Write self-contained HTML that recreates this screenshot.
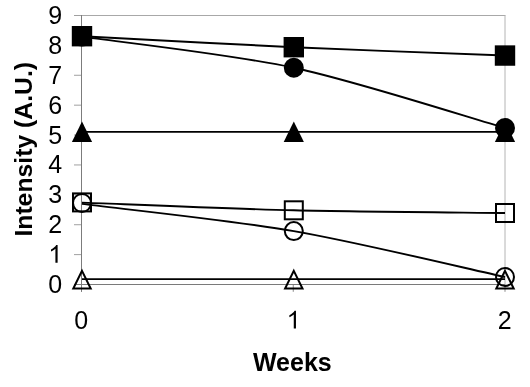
<!DOCTYPE html><html><head><meta charset="utf-8"><style>html,body{margin:0;padding:0;background:#fff;}svg{display:block;}text{font-family:"Liberation Sans",sans-serif;}svg{will-change:transform;}</style></head><body>
<svg width="530" height="387" viewBox="0 0 530 387">
<rect width="530" height="387" fill="#fff"/>
<line x1="81" y1="15.5" x2="505.5" y2="15.5" stroke="#a8a8a8" stroke-width="1"/>
<line x1="505" y1="15.5" x2="505" y2="284" stroke="#b4b4b4" stroke-width="1"/>
<line x1="74" y1="284.50" x2="81" y2="284.50" stroke="#a0a0a0" stroke-width="1"/>
<line x1="74" y1="254.61" x2="81" y2="254.61" stroke="#a0a0a0" stroke-width="1"/>
<line x1="74" y1="224.72" x2="81" y2="224.72" stroke="#a0a0a0" stroke-width="1"/>
<line x1="74" y1="194.83" x2="81" y2="194.83" stroke="#a0a0a0" stroke-width="1"/>
<line x1="74" y1="164.94" x2="81" y2="164.94" stroke="#a0a0a0" stroke-width="1"/>
<line x1="74" y1="135.06" x2="81" y2="135.06" stroke="#a0a0a0" stroke-width="1"/>
<line x1="74" y1="105.17" x2="81" y2="105.17" stroke="#a0a0a0" stroke-width="1"/>
<line x1="74" y1="75.28" x2="81" y2="75.28" stroke="#a0a0a0" stroke-width="1"/>
<line x1="74" y1="45.39" x2="81" y2="45.39" stroke="#a0a0a0" stroke-width="1"/>
<line x1="74" y1="15.50" x2="81" y2="15.50" stroke="#a0a0a0" stroke-width="1"/>
<line x1="81.50" y1="284" x2="81.50" y2="291.8" stroke="#8a8a8a" stroke-width="1"/>
<line x1="293.25" y1="284" x2="293.25" y2="291.8" stroke="#8a8a8a" stroke-width="1"/>
<line x1="505.00" y1="284" x2="505.00" y2="291.8" stroke="#8a8a8a" stroke-width="1"/>
<line x1="81.5" y1="15" x2="81.5" y2="291.8" stroke="#7c7c7c" stroke-width="1"/>
<line x1="74" y1="284.5" x2="505" y2="284.5" stroke="#7a7a7a" stroke-width="1"/>
<text x="62.20" y="292.70" font-size="25.00" text-anchor="end">0</text>
<path transform="translate(48.296,262.811) scale(0.012207,-0.012207)" d="M763 0H583V1147Q518 1085 412 1023Q307 961 223 926V1100Q374 1171 487 1272Q600 1373 647 1466H763Z" fill="#000"/>
<text x="62.20" y="232.92" font-size="25.00" text-anchor="end">2</text>
<text x="62.20" y="203.03" font-size="25.00" text-anchor="end">3</text>
<text x="62.20" y="173.14" font-size="25.00" text-anchor="end">4</text>
<text x="62.20" y="144.16" font-size="25.00" text-anchor="end">5</text>
<text x="62.20" y="114.17" font-size="25.00" text-anchor="end">6</text>
<text x="62.20" y="84.48" font-size="25.00" text-anchor="end">7</text>
<text x="62.20" y="53.59" font-size="25.00" text-anchor="end">8</text>
<text x="62.20" y="23.70" font-size="25.00" text-anchor="end">9</text>
<text x="81.30" y="328.60" font-size="25.00" text-anchor="middle">0</text>
<path transform="translate(286.648,328.600) scale(0.012207,-0.012207)" d="M763 0H583V1147Q518 1085 412 1023Q307 961 223 926V1100Q374 1171 487 1272Q600 1373 647 1466H763Z" fill="#000"/>
<text x="504.70" y="328.60" font-size="25.00" text-anchor="middle">2</text>
<text x="292.35" y="371.0" font-size="25" font-weight="bold" text-anchor="middle">Weeks</text>
<text transform="translate(32.0,149.3) rotate(-90)" x="0" y="0" font-size="24.75" font-weight="bold" text-anchor="middle">Intensity (A.U.)</text>
<path d="M82.00,36.20 C117.30,38.03 230.35,44.30 293.80,47.20 C357.25,50.10 469.80,54.16 505.00,55.55" fill="none" stroke="#000" stroke-width="1.9"/>
<path d="M82.00,36.60 C117.30,41.79 230.35,54.04 293.80,67.75 C357.25,81.46 469.80,117.96 505.00,128.00" fill="none" stroke="#000" stroke-width="1.9"/>
<path d="M82.00,131.85 C117.30,131.85 230.35,131.85 293.80,131.85 C357.25,131.85 469.80,131.85 505.00,131.85" fill="none" stroke="#000" stroke-width="1.9"/>
<path d="M82.00,202.60 C117.30,203.88 230.35,208.74 293.80,210.30 C357.25,211.86 469.80,212.55 505.00,213.00" fill="none" stroke="#000" stroke-width="1.9"/>
<path d="M82.00,203.90 C117.30,208.43 230.35,220.13 293.80,231.10 C357.25,242.06 469.80,269.35 505.00,277.00" fill="none" stroke="#000" stroke-width="1.9"/>
<path d="M82.00,279.15 C117.30,279.15 230.35,279.15 293.80,279.15 C357.25,279.15 469.80,279.15 505.00,279.15" fill="none" stroke="#000" stroke-width="1.9"/>
<polygon points="82.00,270.85 90.70,288.45 73.30,288.45" fill="none" stroke="#000" stroke-width="2" stroke-linejoin="miter"/>
<polygon points="293.80,270.85 302.50,288.45 285.10,288.45" fill="none" stroke="#000" stroke-width="2" stroke-linejoin="miter"/>
<polygon points="505.00,270.85 513.70,288.45 496.30,288.45" fill="none" stroke="#000" stroke-width="2" stroke-linejoin="miter"/>
<circle cx="82.00" cy="203.00" r="9.0" fill="none" stroke="#000" stroke-width="2"/>
<circle cx="293.80" cy="231.10" r="9.0" fill="none" stroke="#000" stroke-width="2"/>
<circle cx="505.00" cy="277.00" r="9.0" fill="none" stroke="#000" stroke-width="2"/>
<rect x="73.00" y="193.40" width="18" height="18" fill="none" stroke="#000" stroke-width="2"/>
<rect x="284.80" y="201.30" width="18" height="18" fill="none" stroke="#000" stroke-width="2"/>
<rect x="496.00" y="204.00" width="18" height="18" fill="none" stroke="#000" stroke-width="2"/>
<polygon points="82.00,121.45 92.10,141.90 71.90,141.90" fill="#000"/>
<polygon points="293.80,121.45 303.90,141.90 283.70,141.90" fill="#000"/>
<polygon points="505.00,121.45 515.10,141.90 494.90,141.90" fill="#000"/>
<circle cx="82.00" cy="36.60" r="10" fill="#000"/>
<circle cx="293.80" cy="67.75" r="10" fill="#000"/>
<circle cx="505.00" cy="128.00" r="10" fill="#000"/>
<rect x="71.80" y="26.00" width="20.4" height="20.4" fill="#000"/>
<rect x="283.60" y="37.00" width="20.4" height="20.4" fill="#000"/>
<rect x="494.80" y="45.35" width="20.4" height="20.4" fill="#000"/>
</svg></body></html>
